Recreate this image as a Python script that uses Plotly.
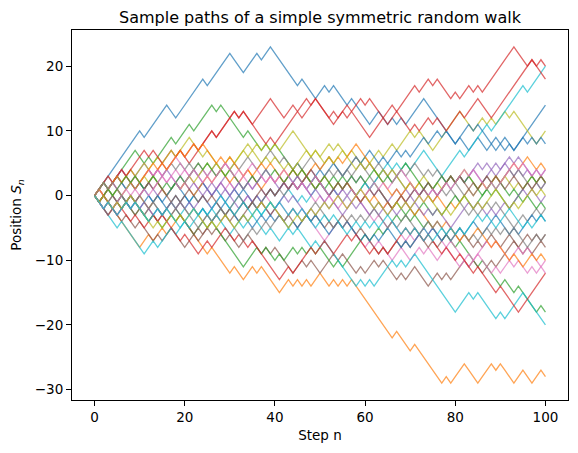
import numpy as np
import plotly.graph_objects as go

# each walk is stored as signed run lengths (+k = k steps up, -k = k steps down)
n_steps = 100

walk_b1 = [10, -1, 5, -2, 6, -1, 5, -3, 3, -1, 2, -6, 1, -3, 2, -1, 1, -3, 1, -4, 2, -2, 1, -1, 1, -1, 4, -7,
           1, -2, 2, -2, 1, -1, 1, -1, 1, -1, 7]
walk_o1 = [-3, 1, -6, 2, -1, 2, -1, 3, -6, 1, -4, 1, -2, 2, -1, 1, -4, 2, -1, 1, -1, 1, -1, 2, -2, 1, -1, 1, -1, 1,
           -9, 1, -3, 1, -6, 1, -1, 3, -3, 3, -1, 1, -3, 2, -2, 2, -1]
walk_g1 = [2, -1, 3, 3, -2, 1, -1, 4, -1, 3, -1, 4, -1, 1, -5, 1, -3, 1, -1, 1, -4, 1, -3, 1, -2, 2, -1, 1, -3, 2,
           -1, 1, -4, 1, -3, 1, -2, 1, -3, 1, -1, -1, 1, -1, -3, 1, -4, 1, -2, 1, -4, 1, -1]
walk_r1 = [2, -1, 3, -1, 1, -2, 2, -1, 1, 3, -1, 1, -2, 5, -1, 4, -1, 1, -2, 1, 3, -1, -2, 2, -2, 3, -4, 2, -1, 3,
           -1, 1, -3, 2, -1, 4, -1, 2, -1, 1, -3, 1, -1, 2, -1, 1, -1, 7, -3, 1, -1, 1, -1]
walk_p1 = [2, -1, 3, -2, 2, 1, -2, 1, -1, 1, -3, 1, 2, -3, 1, -1, 2, -1, -1, 1, -1, 2, -3, 1, -1, 2, -1, 1, -1, 3,
           -2, -2, 1, -1, 3, -1, 1, -1, -2, 1, -2, 2, -1, 1, -1, 1, -1, 2, -2, 3, -1, 1, -1, 3, -1, 1, -2, 1,
           2, -1, 1, -3, 1, -1, 1]
walk_br1 = [-2, 1, -3, 1, -2, 1, -3, 1, -1, 2, -3, 2, -1, 2, -1, 1, -2, 1, -2, 1, 1, -3, 1, -1, 1, -4, 2, -1, 1,
            -2, 3, -1, 1, -3, 1, -1, 2, -1, 1, -3, 1, -1, 2, -3, 2, -1, 1, -1, 3, -1, 1, -2, 2, -1, 4, -1, 2, -1,
            1, -1, 1]
walk_pk1 = [1, -1, 2, -1, 2, -2, 1, -1, 3, -2, 2, -1, 1, -3, 1, -2, 2, -1, 1, -3, 1, -2, 2, -2, 1, -2, 1, -1, 1,
            -5, 3, -1, 1, -4, 1, -1, 1, -3, 2, -2, 2, -1, 1, -2, 2, -3, 1, -1, 2, -3, 1, -1, 2, -1, 1, -2, 1, -1,
            1, -1]
walk_gy1 = [3, -1, 1, -2, 1, -1, 1, -1, 2, -1, 3, -1, 1, -1, 1, -2, 1, -1, 2, -1, 1, -1, 1, -1, 2, -2, 3, -1,
            -1, 1, -2, 1, -1, 2, -2, 2, -3, 1, -1, 2, -1, -2, 2, -1, 1, -3, 1, -2, 1, -2, 2, -1, 1, -1,
            -3, 1, -1, 2, -1, 1, -1, -3, 2, -1, 2, -1, 1]
walk_y1 = [1, -1, 3, -1, 2, -1, 2, -1, 2, -1, 2, -1, 3, -3, 1, -3, 2, -1, 3, -1, 1, -1, 1, -1, 1, -1, 3, -4, 1,
           -1, 2, -1, 1, -2, 1, -2, 1, -1, 2, -1, 2, -1, 3, -1, 1, -3, 6, -3, 2, -1, 1, -1, 2, -1, 1, -4, -1, 2]
walk_c1 = [-2, 1, -1, 2, -2, 1, -3, 2, -1, 2, -2, 3, -1, 1, -3, 1, -1, 3, -2, 1, -2, 2, -1, 3, -2, 1, -1, 3, -2,
           1, -2, 2, -1, 2, -1, 4, -1, 1, -1, 1, -1, 3, -4, 4, -1, 2, 3, -1, 2, 5, -1, 4]

walk_b2 = [2, -1, 2, -2, 1, -1, 1, -3, 1, -2, 2, -1, 1, -1, 3, -2, 1, -2, 2, -1, 1, -2, 1, -1, 2, -1, 3, -2, 1,
           -1, 1, 2, -1, 2, -2, 3, -1, 2, -2, 1, -1, 2, -1, 1, -1, 3, -1, 2, -1, 1, -2, 3, -1, 1, -3, 1, -1, 1,
           -2, 2, -1, 1, -1, 1, -1]
walk_o2 = [-1, 1, -2, 1, -1, 2, -1, 1, -2, 3, -1, 2, -1, 1, -2, 3, -1, 2, -2, 1, -1, 2, -3, 2, -1, 2, -1, 1, -2,
           3, -1, 2, -1, 1, -1, 3, -8, 1, -1, 2, -1, 1, -3, 1, -2, 1, -1, 3, -1, 2, -1, 2, -1, 3, -1, 2, -2, 1,
           -1]
walk_g2 = [-1, 2, -2, 1, -3, 1, -2, 1, -2, 2, -1, 1, -3, 2, -1, 1, -7, 3, -1, 1, -2, 1, -1, 2, -1, 1, -1, 1, -1,
           1, -3, 1, -1, 5, -1, 2, -1, 3, -1, 2, -1, 2, -2, 1, -1, 3, -1, 1, -2, 3, -1, 1, -3, 2, -1, 1, -2, 1,
           -1]
walk_r2 = [3, -1, 2, -1, 4, -1, 1, -3, 3, -1, 2, -1, 3, -1, 4, -1, 1, -5, 1, -1, 7, -1, 1, -3, 1, -1, 2, -5, 3,
           -1, 2, -3, 1, -1, 2, -1, 1, -2, 3, -1, 3, -3, 9, -3]
walk_p2 = [1, -1, 1, -3, 2, -1, 1, 2, -2, 1, -1, 3, -1, -1, 1, -2, 1, -1, 2, -2, -2, 2, -1, 1, -3, 1, 2, -1, 1,
           -3, 1, -1, 1, 3, -1, 1, -2, 1, -1, 1, -3, 2, -1, 2, -1, 1, -1, 2, -1, 3, -1, 1, -1, 1, -1, 2, -2, 3,
           -1, 1, -2, 1, -1, 1, -3, 1]
walk_br2 = [-2, 2, -1, 1, -3, 1, -1, 1, -2, 1, -1, 2, -2, -2, 1, -1, 3, -1, 1, -1, 1, -1, 3, -1, 1, -2, 1, -2, 1,
            -2, 2, -1, 1, -1, -1, 1, -1, 2, -3, 1, -1, -3, 1, -1, 2, -1, 1, -1, 2, -2, 1, -1, 3, -1, -1, 1, -2,
            1, -1, 2, -2, 2, -3, 1, -1, 2, -1]
walk_pk2 = [1, -1, 2, -2, 3, -1, 2, -1, 1, -1, 3, -2, -1, 2, -2, 1, -1, 2, -1, -2, 1, -2, 2, -1, 1, -1, 1, -2, 1,
            -1, 1, -3, 1, -1, 1, -2, 1, -1, 2, -2, -2, 1, -2, 1, -3, 1, -1, 1, -1, 2, -3, 1, -1, -2, 1, -1, 3,
            -1, 1, -1, -2, 2, -1, 1, -3, 1]
walk_gy2 = [-1, 1, -1, 2, -3, 1, -1, -1, 2, -2, 1, -1, 2, -1, -3, 2, -1, 2, -1, 1, 2, -2, 1, -1, 3, -1, 1, -1, 3,
            -1, 1, -2, 1, 2, -1, 1, -1, 3, -2, 1, -1, 1, -3, 2, -1, 1, 1, -2, 1, -1, 1, -3, 1, -2, 1, -1, 3, -1,
            1, -1, 2, -1, 1, -3, 1, -1, 1]
walk_y2 = [2, -2, 1, -1, 3, -1, 1, -1, 1, -3, 2, -1, 1, 1, -1, 3, -1, 1, -2, 1, 3, -1, 1, -2, 1, -1, 1, -2, 1, -1,
           3, -1, 1, -1, -1, 1, -1, 2, -3, 1, -1, 1, -2, 1, -1, 1, -3, 1, -1, 2, -2, 1, -1, 2, -1, 2, -3, 1, -1,
           2, -1, 1, -2, 1, -1, 2, -1, 1, -1]
walk_c2 = [-5, 1, -5, 2, -1, 3, -1, 2, -1, 3, -2, 1, -3, 2, -1, 2, -3, 1, -2, 2, -1, 1, -3, 1, -1, 1, -1, -6, 1,
           -1, 1, -1, 4, -1, 1, -1, 1, 1, -1, -8, 3, -1, 1, -4, 1, -1, 4, -5]

walk_b3 = [-1, 1, -2, 1, -1, 2, -2, 2, -1, 1, -1, 3, -2, -3, 1, -1, 2, -1, 1, -1, -2, 1, -2, 2, -1, 1, -1, 1, -2,
           1, -1, 2, -1, 1, -1, -2, 2, -1, 1, -3, 1, -1, 1, -1, 2, -3, 1, -1, 3, -1, 1, -2, 1, -1, 1, 1, -1, 2,
           -2, 3, -1, -2, 1, -1, 3, -1, 1, -1]
walk_o3 = [1, -1, 3, -1, 1, -2, 1, 3, -1, 1, -1, 3, -1, 2, -1, 1, -3, 1, -1, 1, -3, 1, -1, 2, -1, 1, -1, -2, 2,
           -1, 1, -3, 1, 1, -2, 1, -1, 1, -3, 1, -1, 1, -2, 1, -1, 2, -2, -1, 1, -3, 1, -1, 1, -2, -1, 1, -1, 2,
           -3, 1, -1, -2, 1, -2, 2, -1, 1, -1]
walk_g3 = [-1, 2, -1, 3, -1, 1, -1, -1, 2, -2, 1, -1, 2, -1, 3, -1, 1, -2, 1, -1, 1, -3, 2, -1, 2, -1, 1, -2, 2,
           -1, 1, -3, 1, 1, -2, 1, -1, 2, -1, 1, -1, 2, -2, 1, -1, 3, -1, -3, 1, -1, 2, -1, 1, -1, 1, -1, 1, -3,
           2, -1, 1, -2, 1, -1, 3, -1, 1, -1]
walk_r3 = [-1, 1, -3, 1, -2, 1, -2, 2, -1, 1, -4, 1, -3, 2, -1, 3, -1, -1, 1, -2, 1, -6, 2, -1, 3, 1, -1, 2, -2,
           3, -1, 1, -3, 1, -1, 1, -1, 4, -1, 1, -2, 1, -1, -2, 1, -1, -1, 1, -3, 1, -4, 1, -4, 6]
walk_p3 = [-3, 1, -1, 2, -1, 1, -1, 1, -2, 1, -1, 2, -1, 1, -1, 1, -1, 2, -2, 3, -1, 2, -1, 1, -1, 3, -2, -1, 1,
           -1, 2, -3, 1, -1, -2, 1, -2, 2, -1, 1, -1, -1, 2, -2, 1, -1, 2, -1, 1, -2, 1, -1, 1, -3, 1, 3, -1, 1,
           -2, 1, -1, 1, 1, -1, 3, -1, 1, -2, 1]
walk_br3 = [-3, 2, -1, 2, -1, 1, 2, -1, 1, -3, 1, -1, 1, 1, -2, 1, -1, 1, -3, 1, -1, 2, -1, 3, -1, 1, -1, 2, -1,
            1, -1, 3, -2, -2, 2, -1, 1, -3, 1, 1, -1, 1, -3, 2, -1, 1, 1, -1, 2, -2, 3, -1, 1, -2, 1, -1, 2, -1,
            1, -1, -1, 2, -2, 1, -1, 2, -1]
walk_pk3 = [-2, 1, -1, 3, -1, 1, -1, 1, -1, 3, -1, 1, -2, 1, 2, -2, 1, -1, 3, -1, -1, 1, -1, 2, -3, 1, -1, 2, -3,
            1, -1, 2, -1, -3, 1, -1, 2, -1, 1, -1, 2, -1, 1, -1, 3, -2, -3, 2, -1, 2, -1, 1, 2, -1, 1, -3, 1, -1,
            1, 3, -1, 1, -2, 1, -1, 1]
walk_gy3 = [2, -1, 1, -3, 1, -1, 1, -2, 1, -2, 2, -1, 1, -1, -1, 1, -2, 1, -1, 2, -2, -3, 2, -1, 2, -1, 1, 1, -1,
            2, -2, 3, -1, -3, 1, -1, 2, -1, 1, -1, 2, -3, 1, -1, 2, -1, -2, 2, -1, 1, -3, 1, 1, -2, 1, -1, 2, -1,
            1, -1, 1, -1, 1, -3, 2, -1, 1]
walk_y3 = [-1, 1, -2, 1, -1, 2, -2, -3, 1, -1, 2, -1, 1, -1, 2, -3, 1, -1, 2, -1, -1, 2, -1, 3, -1, 1, -1, -3, 2,
           -1, 2, -1, 1, 1, -1, 2, -2, 3, -1, -2, 1, -2, 2, -1, 1, -1, 2, -1, 1, -3, 1, -1, 1, 2, -2, 1, -1, 3,
           -1, -2, 1, -1, 3, -1, 1, -1]
walk_c3 = [-2, 1, -2, 2, -1, 1, -1, -2, 2, -1, 1, -3, 1, 2, -1, 1, -1, 3, -2, -1, 2, -2, 1, -1, 2, -1, 1, -2, 1,
           -1, 1, -3, 1, 1, -1, 1, -3, 2, -1, 1, -1, 1, -1, 2, -3, 1, -1, 1, -2, 1, -1, 2, -1, 1, -1, 1, -1, 3,
           -1, 1, -2, 1, 2, -3, 1, -1, 2, -1]

walks = [walk_b1, walk_o1, walk_g1, walk_r1, walk_p1, walk_br1, walk_pk1, walk_gy1, walk_y1, walk_c1,
         walk_b2, walk_o2, walk_g2, walk_r2, walk_p2, walk_br2, walk_pk2, walk_gy2, walk_y2, walk_c2,
         walk_b3, walk_o3, walk_g3, walk_r3, walk_p3, walk_br3, walk_pk3, walk_gy3, walk_y3, walk_c3]

colors = ["#1f77b4", "#ff7f0e", "#2ca02c", "#d62728", "#9467bd",
          "#8c564b", "#e377c2", "#7f7f7f", "#bcbd22", "#17becf"]

x_ticks = [0, 20, 40, 60, 80, 100]
y_ticks = [-30, -20, -10, 0, 10, 20]

steps = np.arange(n_steps + 1)

fig = go.Figure()
for i, runs in enumerate(walks):
    moves = np.concatenate([np.full(abs(r), np.sign(r)) for r in runs])
    assert len(moves) == n_steps, f"walk {i} has {len(moves)} steps"
    pos = np.concatenate([[0], np.cumsum(moves)])
    fig.add_trace(go.Scatter(
        x=steps, y=pos, mode="lines",
        line=dict(color=colors[i % 10], width=1.3),
        opacity=0.7, showlegend=False, hoverinfo="skip"
    ))

axis_style = dict(
    showgrid=False, zeroline=False, showline=True, linecolor="black", linewidth=1,
    mirror=True, ticks="outside", ticklen=5, tickcolor="black", tickwidth=1,
    tickfont=dict(size=13.5, color="black"), automargin=False
)

# the page adds ~8px of body margin, so the figure is a bit smaller than the window
fig.update_layout(
    width=570, height=445,
    margin=dict(l=64, r=10, t=22, b=53),
    paper_bgcolor="white", plot_bgcolor="white",
    font=dict(family="DejaVu Sans", color="black"),
    title=dict(text="Sample paths of a simple symmetric random walk",
               x=0.5, xref="paper", xanchor="center",
               y=1 - 9 / 445, yref="container", yanchor="middle",
               font=dict(size=16, color="black")),
    xaxis=dict(range=[-5, 105], tickvals=x_ticks,
               title=dict(text="Step n", font=dict(size=13.5), standoff=6), **axis_style),
    yaxis=dict(range=[-31.6, 25.6], tickvals=y_ticks,
               title=dict(text="Position <i>S</i><sub><i>n</i></sub>", font=dict(size=13.5), standoff=10),
               **axis_style),
)

fig.write_html("out.html")
